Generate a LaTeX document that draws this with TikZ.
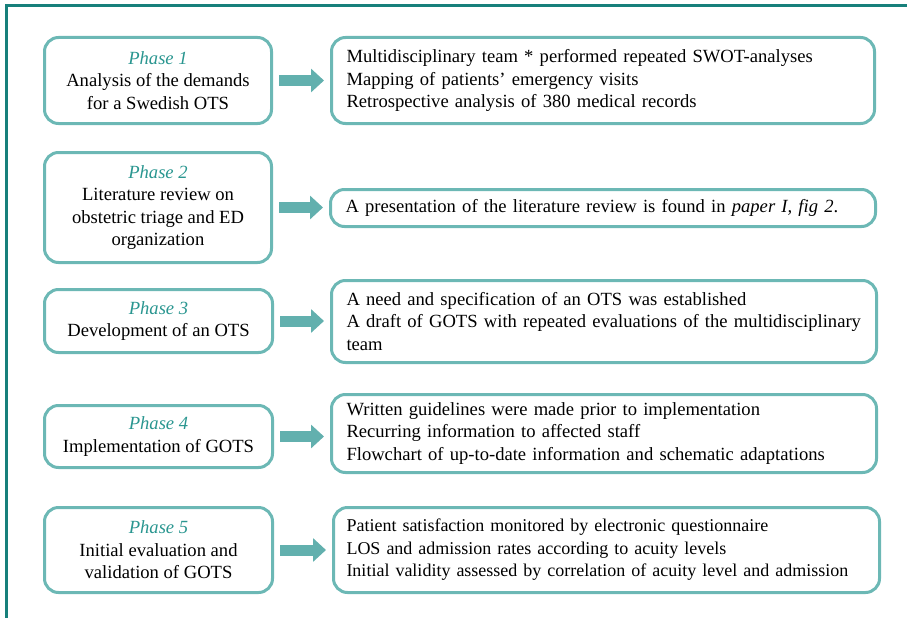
\documentclass[tikz,border=0pt]{standalone}
\usepackage{fontspec}
\setmainfont{Liberation Serif}
\usetikzlibrary{arrows.meta}
\definecolor{frameteal}{HTML}{17807B}
\definecolor{boxteal}{HTML}{6CB8B5}
\definecolor{phaseteal}{HTML}{2A9690}
\definecolor{arrowteal}{HTML}{62B0AE}
\tikzset{
  phasebox/.style={draw=boxteal, line width=3pt, rounded corners=14pt, align=center,
    minimum width=227pt, inner sep=0pt, anchor=north west, font=\fontsize{18.6}{22.5}\selectfont},
  taskbox/.style={draw=boxteal, line width=3pt, rounded corners=14pt, align=left,
    inner xsep=15pt, inner ysep=0pt, anchor=north west, font=\fontsize{18.6}{22.5}\selectfont},
  flow/.style={arrowteal, line width=11pt, -{Triangle[width=23pt,length=13pt]},
    shorten <=6pt, shorten >=6pt}
}
\newcommand{\phasename}[1]{\textcolor{phaseteal}{\textit{#1}}}
\begin{document}
\begin{tikzpicture}[x=1pt,y=-1pt]
    \useasboundingbox (0,0) rectangle (907,618);
    % frame
    \draw[frameteal, line width=3pt] (907,5.5) -- (6.5,5.5) -- (6.5,618);

    % phase 1
    \node[phasebox, minimum height=86pt] (p1) at (43,36)
        {\phasename{Phase 1}\\Analysis of the demands\\for a Swedish OTS};
    \node[taskbox, minimum height=86pt, text width=513pt] (t1) at (330,36)
        {Multidisciplinary team * performed repeated SWOT-analyses\\
         Mapping of patients' emergency visits\\
         Retrospective analysis of 380 medical records};
    \draw[flow] (p1.east) -- (p1.east -| t1.west);

    % phase 2
    \node[phasebox, minimum height=110pt] (p2) at (43,151)
        {\phasename{Phase 2}\\Literature review on\\obstetric triage and ED\\organization};
    \node[taskbox, minimum height=37pt, text width=515pt] (t2) at (329,188)
        {A presentation of the literature review is found in \textit{paper I, fig 2}.};
    \draw[flow] (p2.east) -- (p2.east -| t2.west);

    % phase 3
    \node[phasebox, minimum height=63pt, minimum width=228pt] (p3) at (43,288)
        {\phasename{Phase 3}\\Development of an OTS};
    \node[taskbox, minimum height=82pt, text width=515pt] (t3) at (330,279)
        {A need and specification of an OTS was established\\
         A draft of GOTS with repeated evaluations of the multidisciplinary\\
         team};
    \draw[flow] (p3.east) -- (p3.east -| t3.west);

    % phase 4
    \node[phasebox, minimum height=62pt, minimum width=228pt] (p4) at (43,404)
        {\phasename{Phase 4}\\Implementation of GOTS};
    \node[taskbox, minimum height=78pt, text width=515pt] (t4) at (330,393)
        {Written guidelines were made prior to implementation\\
         Recurring information to affected staff\\
         Flowchart of up-to-date information and schematic adaptations};
    \draw[flow] (p4.east) -- (p4.east -| t4.west);

    % phase 5
    \node[phasebox, minimum height=85pt, minimum width=228pt] (p5) at (43,506)
        {\phasename{Phase 5}\\Initial evaluation and\\validation of GOTS};
    \node[taskbox, minimum height=85pt, text width=520pt, inner xsep=13pt,
        font=\fontsize{18}{22.5}\selectfont] (t5) at (332,506)
        {Patient satisfaction monitored by electronic questionnaire\\
         LOS and admission rates according to acuity levels\\
         Initial validity assessed by correlation of acuity level and admission};
    \draw[flow] (p5.east) -- (p5.east -| t5.west);
\end{tikzpicture}
\end{document}
